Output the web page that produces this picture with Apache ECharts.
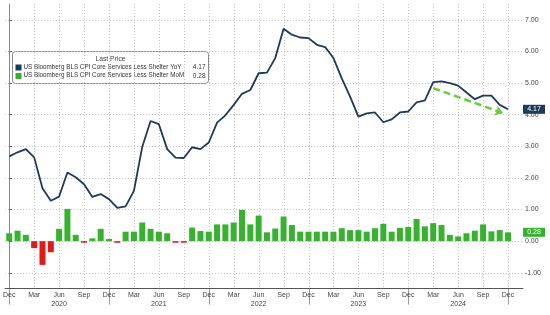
<!DOCTYPE html>
<html><head><meta charset="utf-8">
<script src="https://cdn.jsdelivr.net/npm/echarts@6/dist/echarts.min.js"></script>
<style>html,body{margin:0;padding:0;background:#fff}#c{width:550px;height:315px}</style>
</head><body><div id="c"></div>
<script>
// Months: index 0 = Dec 2019 ... index 60 = Dec 2024
const monthNames = ['Dec','Jan','Feb','Mar','Apr','May','Jun','Jul','Aug','Sep','Oct','Nov'];
const startYear = 2019;
const yoyValues = [2.68,2.81,2.91,2.65,1.67,1.28,1.41,2.17,2.02,1.80,1.40,1.49,
  1.33,1.05,1.10,1.59,2.98,3.80,3.70,2.91,2.64,2.63,2.97,2.91,
  3.12,3.75,3.98,4.31,4.66,4.78,5.31,5.33,5.79,6.72,6.53,6.44,
  6.42,6.21,6.14,5.79,5.15,4.57,3.94,4.04,4.07,3.76,3.85,4.07,
  4.10,4.39,4.45,5.03,5.05,5.00,4.92,4.70,4.49,4.60,4.60,4.31,4.17];
const momValues = [0.25,0.33,0.20,-0.22,-0.75,-0.35,0.39,1.02,0.20,-0.05,0.09,0.39,
  0.07,-0.05,0.30,0.30,0.59,0.39,0.30,0.25,-0.05,-0.05,0.43,0.32,
  0.30,0.53,0.53,0.59,0.99,0.53,0.81,0.28,0.40,0.78,0.51,0.30,
  0.30,0.30,0.30,0.30,0.41,0.35,0.35,0.30,0.41,0.55,0.30,0.42,
  0.45,0.70,0.47,0.57,0.51,0.20,0.15,0.25,0.33,0.53,0.31,0.35,0.28];
const yTickValues = [-1,0,1,2,3,4,5,6,7];
const monthTickIdx = [0,3,6,9,12,15,18,21,24,27,30,33,36,39,42,45,48,51,54,57,60];
const yearLabelIdx = [6,18,30,42,54];
const yearSepIdx = [0,12,24,36,48,60];
const trendArrow = [[51,4.84],[59.4,4.05]];
const yoyName = 'US Bloomberg BLS CPI Core Services Less Shelter YoY';
const momName = 'US Bloomberg BLS CPI Core Services Less Shelter MoM';
const lastYoY = '4.17', lastMoM = '0.28';

const NAVY = '#1d3a5c', GREEN = '#36b22f', RED = '#e0191b', ARROW = '#6ccb3e';
const FONT = 'Liberation Sans, Arial, sans-serif';
const GRIDLINE = {color:'#c4c4c4', type:[1,2], width:1};

const lineData = yoyValues.map((v,i)=>[i,v]);
const barData = momValues.map((v,i)=>({value:[i,v], itemStyle:{color: v>=0?GREEN:RED}}));

function vLines(top, len, stroke, dash){
  return function(params, api){
    const cs = params.coordSys;
    const x = Math.round(api.coord([api.value(0), 0])[0]) + 0.5;
    const y1 = top ? cs.y : cs.y + cs.height;
    const y2 = top ? cs.y + cs.height : cs.y + cs.height + len;
    return {type:'line', shape:{x1:x, y1:y1, x2:x, y2:y2},
      style:{stroke:stroke, lineWidth:1, lineDash:dash}};
  };
}

const chart = echarts.init(document.getElementById('c'), null, {renderer:'canvas'});
chart.setOption({
  animation:false,
  backgroundColor:'#fff',
  grid:{left:4, right:27, top:4, bottom:26.4},
  xAxis:[{
    type:'value', min:-0.5, max:61.8,
    axisLine:{show:true, onZero:false, lineStyle:{color:'#555', width:1}},
    axisTick:{show:false},
    axisLabel:{customValues:monthTickIdx, fontSize:7, color:'#444', fontFamily:FONT, margin:3,
      formatter:v=>monthNames[((Math.round(v))%12+12)%12]},
    splitLine:{show:false}
  },{
    type:'value', min:-0.5, max:61.8, position:'bottom',
    axisLine:{show:false, onZero:false},
    axisTick:{show:false},
    axisLabel:{customValues:yearLabelIdx, fontSize:7, color:'#444', fontFamily:FONT, margin:12,
      formatter:v=>String(startYear + Math.floor((Math.round(v)+11)/12))},
    splitLine:{show:false}
  }],
  yAxis:{
    type:'value', position:'right', min:-1.5, max:7.5,
    axisLine:{show:true, lineStyle:{color:'#888'}},
    axisTick:{show:true, customValues:yTickValues, length:3, lineStyle:{color:'#666'}},
    axisLabel:{customValues:yTickValues, fontSize:7, color:'#444', fontFamily:FONT, margin:2,
      formatter:v=>v.toFixed(2)},
    splitLine:{show:true, lineStyle:GRIDLINE}
  },
  series:[{
    type:'custom', silent:true, z:0, data:monthTickIdx.map(i=>[i,0]), encode:{x:0,y:1},
    renderItem:vLines(true, 0, '#c4c4c4', [1,2])
  },{
    type:'custom', silent:true, z:0, clip:false, data:yearSepIdx.map(i=>[i,0]), encode:{x:0,y:1},
    renderItem:vLines(false, 16, '#9a9a9a', null)
  },{
    type:'bar', name:momName, data:barData, barWidth:6, z:2,
    markPoint:{symbol:'rect', symbolSize:[22,9], symbolOffset:[11,0],
      itemStyle:{color:GREEN},
      label:{show:true, color:'#fff', fontSize:7, fontFamily:FONT, formatter:lastMoM},
      data:[{coord:[61.8, momValues[momValues.length-1]]}]}
  },{
    type:'line', name:yoyName, data:lineData, symbol:'none', z:3,
    lineStyle:{color:NAVY, width:1.8},
    markPoint:{symbol:'rect', symbolSize:[22,9], symbolOffset:[11,0],
      itemStyle:{color:NAVY},
      label:{show:true, color:'#fff', fontSize:7, fontFamily:FONT, formatter:lastYoY},
      data:[{coord:[61.8, yoyValues[yoyValues.length-1]]}]},
    markLine:{silent:true, symbol:['none','arrow'], symbolSize:[8,8],
      lineStyle:{color:ARROW, width:2.5, type:[7,4]}, label:{show:false},
      data:[[{coord:trendArrow[0]},{coord:trendArrow[1]}]]}
  }],
  graphic:[{
    type:'group', left:12, top:51, children:[
      {type:'rect', shape:{x:0,y:0,width:196,height:32,r:3}, style:{fill:'#fff', stroke:'#8a8a8a', lineWidth:1}},
      {type:'text', x:98, y:4, style:{text:'Last Price', fontSize:6.8, fill:'#444', fontFamily:FONT, align:'center'}},
      {type:'rect', shape:{x:3,y:13,width:6,height:6}, style:{fill:NAVY}},
      {type:'text', x:11, y:12.5, style:{text:yoyName, fontSize:6.3, fill:'#333', fontFamily:FONT}},
      {type:'text', x:193, y:12.5, style:{text:lastYoY, fontSize:6.5, fill:'#333', fontFamily:FONT, align:'right'}},
      {type:'rect', shape:{x:3,y:21.5,width:6,height:6}, style:{fill:GREEN}},
      {type:'text', x:11, y:21, style:{text:momName, fontSize:6.3, fill:'#333', fontFamily:FONT}},
      {type:'text', x:193, y:21, style:{text:lastMoM, fontSize:6.5, fill:'#333', fontFamily:FONT, align:'right'}}
    ]
  }]
});
</script></body></html>
